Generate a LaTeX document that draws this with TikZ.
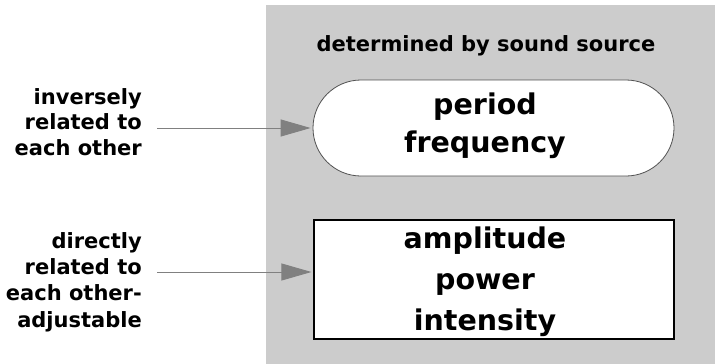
\documentclass[tikz,border=0pt]{standalone}
\usepackage{fontspec}
\setmainfont{DejaVu Sans}
\usetikzlibrary{arrows.meta}

\definecolor{panelgray}{HTML}{CCCCCC}
\definecolor{arrowgray}{HTML}{808080}
\definecolor{edgegray}{HTML}{505050}

\begin{document}
\begin{tikzpicture}[x=1pt,y=-1pt,
  sidelabel/.style={align=right,anchor=base east,inner sep=0pt,
    font=\bfseries\fontsize{21}{25.5}\selectfont},
  titlelabel/.style={anchor=base,inner sep=0pt,
    font=\bfseries\fontsize{21}{25}\selectfont},
  pillbox/.style={draw=edgegray,line width=0.8pt,fill=white,
    rounded corners=48pt,minimum width=361pt,minimum height=96pt,inner sep=0pt},
  squarebox/.style={draw=black,line width=1.2pt,fill=white,
    minimum width=360pt,minimum height=119pt,inner sep=0pt},
  boxtext/.style={align=center,anchor=base,inner sep=0pt},
  link/.style={draw=arrowgray,line width=0.9pt,
    -{Triangle[length=30pt,width=17pt,fill=arrowgray]},shorten >=2pt}
]
\useasboundingbox (0,0) rectangle (715,364);

% shaded region of the quantities fixed by the source
\fill[panelgray] (266,5) rectangle (715,364);

\node[titlelabel] (title) at (486,51) {determined by sound source};

% the two groups of quantities (multi-line nodes sit on their last baseline)
\node[pillbox] (pill) at (493.5,128) {};
\node[boxtext,font=\bfseries\fontsize{28.5}{38.7}\selectfont] (pilltext) at (485,152.7)
  {period\\frequency};

\node[squarebox] (square) at (494,279.5) {};
\node[boxtext,font=\bfseries\fontsize{28.5}{41}\selectfont] (squaretext) at (485,330)
  {amplitude\\power\\intensity};

% relations on the left
\node[sidelabel] (inv) at (142,155) {inversely\\related to\\each other};
\node[sidelabel,font=\bfseries\fontsize{21}{26.3}\selectfont] (dir) at (142,327)
  {directly\\related to\\each other-\\adjustable};

\coordinate (invstart) at (157,128);
\coordinate (dirstart) at (157,272);

\draw[link] (invstart) -- (invstart -| pill.west);
\draw[link] (dirstart) -- (dirstart -| square.west);
\end{tikzpicture}
\end{document}
